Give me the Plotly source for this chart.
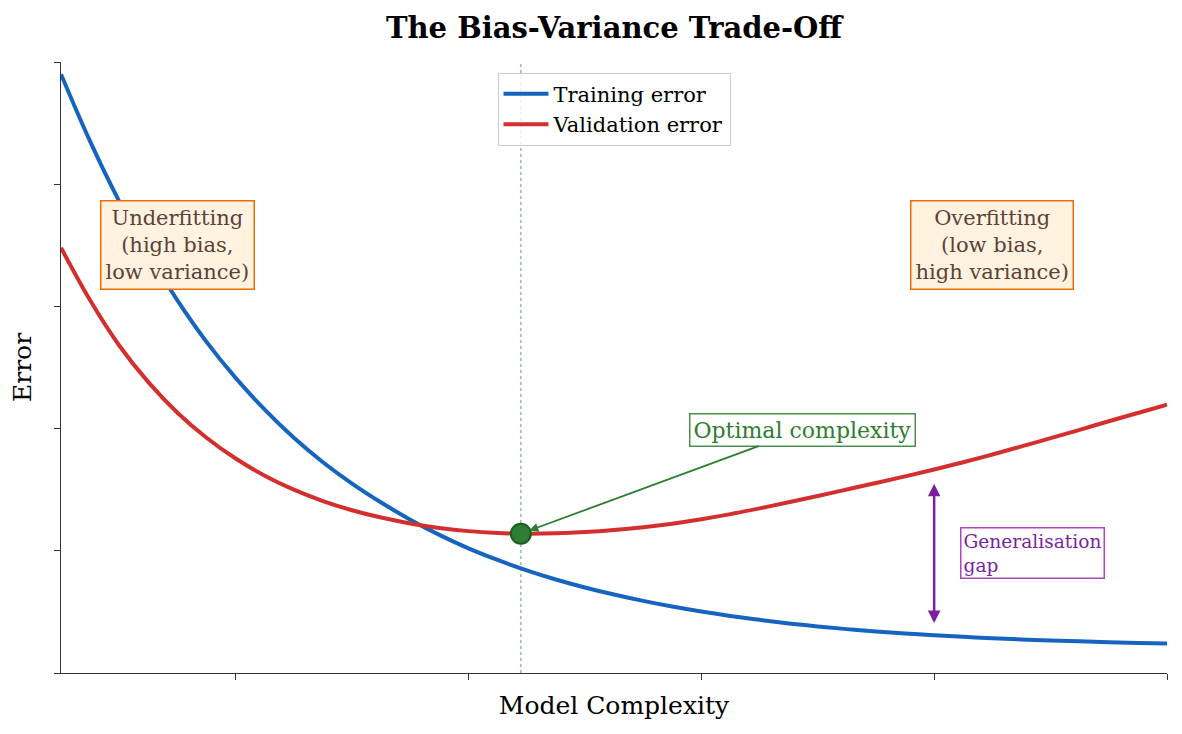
import plotly.graph_objects as go

# Model complexity (x) and the two error curves
complexity = [0.5, 0.75, 1.0, 1.25, 1.5, 1.75, 2.0, 2.25, 2.5, 2.75,
              3.0, 3.25, 3.5, 3.75, 4.0, 4.25, 4.5, 4.75, 5.0, 5.25,
              5.5, 5.75, 6.0, 6.25, 6.5, 6.75, 7.0, 7.25, 7.5, 7.75,
              8.0, 8.25, 8.5, 8.75, 9.0, 9.25, 9.5, 9.75, 10.0]
train_error = [4.90, 4.35, 3.86, 3.43, 3.05, 2.71, 2.415, 2.155, 1.925, 1.725,
               1.55, 1.395, 1.255, 1.13, 1.02, 0.925, 0.84, 0.765, 0.70, 0.642,
               0.59, 0.544, 0.503, 0.467, 0.435, 0.406, 0.381, 0.359, 0.34, 0.323,
               0.309, 0.296, 0.285, 0.275, 0.266, 0.259, 0.252, 0.246, 0.241]
val_error = [3.48, 3.05, 2.68, 2.38, 2.13, 1.925, 1.755, 1.615, 1.50, 1.407,
             1.332, 1.272, 1.224, 1.187, 1.161, 1.146, 1.14, 1.143, 1.153, 1.17,
             1.193, 1.222, 1.258, 1.30, 1.347, 1.397, 1.449, 1.502, 1.555, 1.609,
             1.665, 1.725, 1.788, 1.854, 1.922, 1.99, 2.06, 2.128, 2.195]

optimal_x = 4.45
optimal_y = 1.14
gap_x = 8.0
gap_low = 0.41
gap_high = 1.56

SERIF = "DejaVu Serif"

fig = go.Figure()

fig.add_trace(go.Scatter(
    x=complexity, y=train_error, mode="lines", name="Training error",
    line=dict(color="#1565c0", width=4, shape="spline", smoothing=1.0),
))
fig.add_trace(go.Scatter(
    x=complexity, y=val_error, mode="lines", name="Validation error",
    line=dict(color="#d32f2f", width=4, shape="spline", smoothing=1.0),
))
fig.add_trace(go.Scatter(
    x=[optimal_x], y=[optimal_y], mode="markers", showlegend=False,
    marker=dict(size=20, color="#2e7d32", line=dict(color="#1b5e20", width=2)),
))

# dotted line at the optimum
fig.add_shape(type="line", x0=optimal_x, x1=optimal_x, y0=0, y1=1,
              xref="x", yref="y domain", layer="below",
              line=dict(color="rgba(46,125,50,0.5)", width=1.5, dash="dot"))

# region labels
box_font = dict(family=SERIF, size=21, color="#5d4037")
fig.add_annotation(x=1.5, y=3.5, text="Underfitting<br>(high bias,<br>low variance)",
                   showarrow=False, font=box_font, bgcolor="#fff3e0",
                   bordercolor="#ef6c00", borderwidth=1.5, borderpad=4)
fig.add_annotation(x=8.5, y=3.5, text="Overfitting<br>(low bias,<br>high variance)",
                   showarrow=False, font=box_font, bgcolor="#fff3e0",
                   bordercolor="#ef6c00", borderwidth=1.5, borderpad=4)

# optimal complexity callout
fig.add_annotation(x=optimal_x, y=optimal_y, ax=6.87, ay=1.99, axref="x", ayref="y",
                   text="Optimal complexity", showarrow=True,
                   arrowhead=2, arrowsize=1, arrowwidth=1.8, arrowcolor="#2e7d32",
                   standoff=9, font=dict(family=SERIF, size=22, color="#2e7d32"),
                   bgcolor="white", bordercolor="#4a8f4e", borderwidth=1.5, borderpad=3)

# generalisation gap double arrow
fig.add_annotation(x=gap_x, y=gap_low, ax=gap_x, ay=gap_high, axref="x", ayref="y",
                   text="", showarrow=True, arrowside="end+start",
                   arrowhead=2, arrowsize=1, arrowwidth=2.5, arrowcolor="#7b1fa2")
fig.add_annotation(x=8.22, y=0.98, xanchor="left", align="left",
                   text="Generalisation<br>gap", showarrow=False,
                   font=dict(family=SERIF, size=18.6, color="#7b1fa2"),
                   bgcolor="white", bordercolor="#ab47bc", borderwidth=1.5, borderpad=2)

axis_common = dict(showgrid=False, zeroline=False, showticklabels=False,
                   ticks="outside", ticklen=6, tickwidth=1.3, tickcolor="#333",
                   showline=True, linecolor="#333", linewidth=1.3, automargin=False)

fig.update_layout(
    width=1174, height=726,
    paper_bgcolor="white", plot_bgcolor="white",
    margin=dict(l=53, r=15, t=54, b=61),
    title=dict(text="<b>The Bias-Variance Trade-Off</b>", x=0.5, xref="paper",
               y=1 - 20 / 726, yanchor="middle",
               font=dict(family=SERIF, size=29, color="black")),
    xaxis=dict(range=[0.5, 10], tickvals=[2, 4, 6, 8, 10],
               title=dict(text="Model Complexity", standoff=17,
                          font=dict(family=SERIF, size=25, color="black")),
               **axis_common),
    yaxis=dict(range=[0, 5], tickvals=[0, 1, 2, 3, 4, 5],
               title=dict(text="Error", standoff=15,
                          font=dict(family=SERIF, size=25, color="black")),
               **axis_common),
    legend=dict(x=0.5, xanchor="center", y=0.9825, yanchor="top", itemwidth=45,
                bgcolor="rgba(255,255,255,0.8)", bordercolor="#cccccc", borderwidth=1,
                font=dict(family=SERIF, size=21, color="black")),
    showlegend=True,
)

fig.write_html("out.html")
